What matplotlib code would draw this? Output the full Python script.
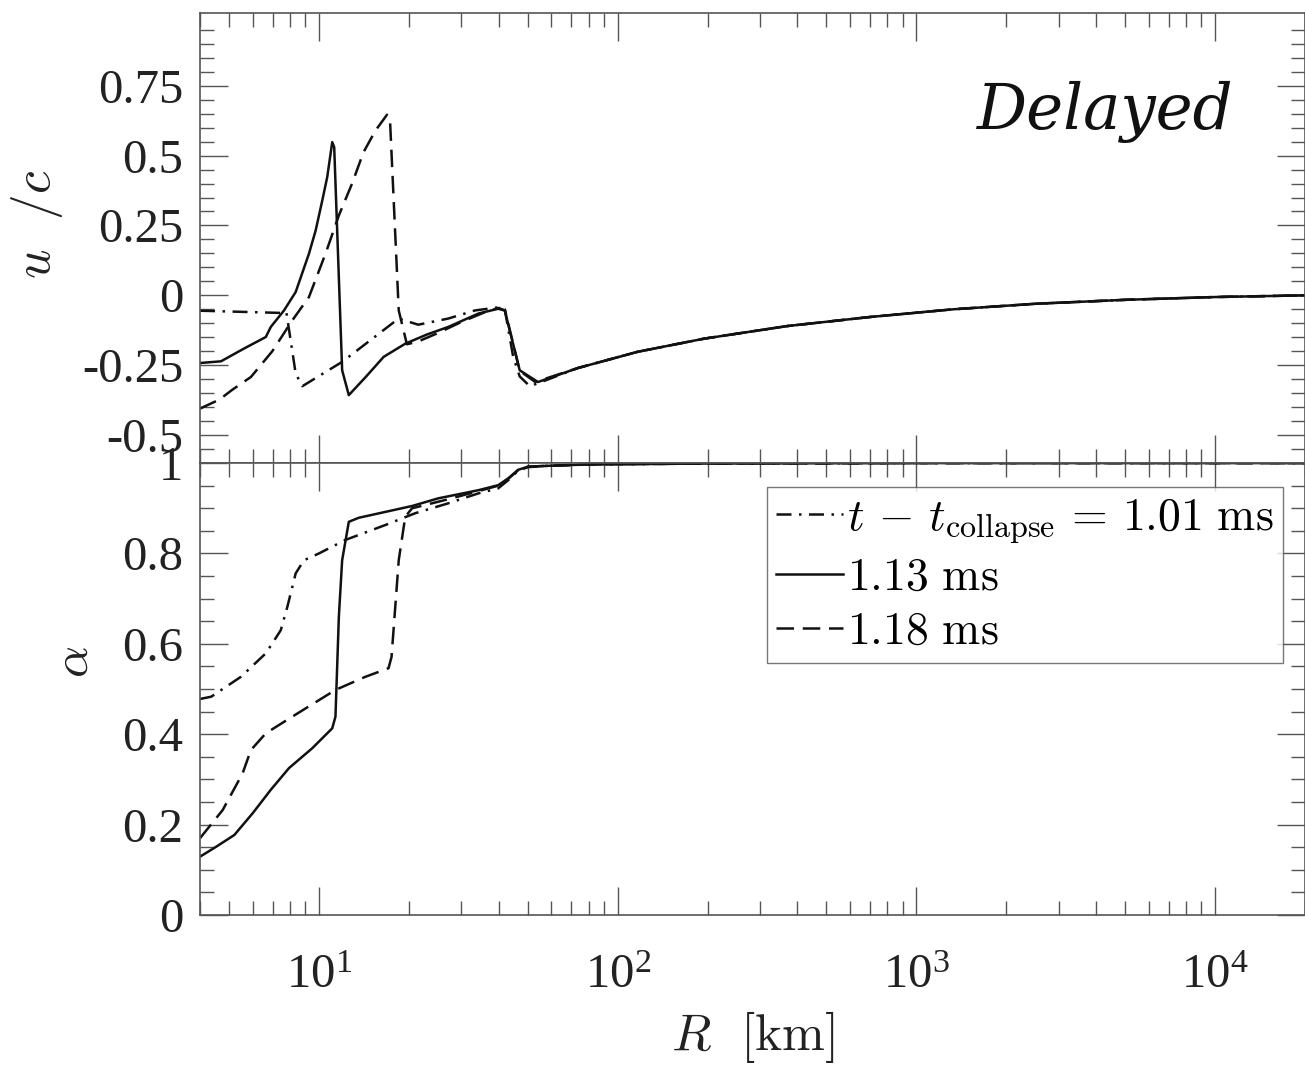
import numpy as np
import matplotlib
matplotlib.use('Agg')
import matplotlib.pyplot as plt

plt.rcParams['font.family'] = ['Liberation Serif', 'DejaVu Serif']
plt.rcParams['mathtext.fontset'] = 'cm'

# velocity u/c, three times after collapse
r_u101 = [4.0, 4.36, 7.55, 7.78, 8.36, 8.80, 11.96, 18.48, 21.5, 27.1, 33.3, 39.8, 41.9, 44.7, 47.0, 50.8, 55.5]
u_101 = [-0.055, -0.056, -0.063, -0.06, -0.28, -0.325, -0.238, -0.083, -0.105, -0.083, -0.054, -0.043, -0.05, -0.22, -0.29, -0.325, -0.31]

r_u113 = [4.0, 4.7, 5.62, 6.64, 6.9, 7.64, 8.36, 9.26, 9.75, 10.26, 10.66, 11.08, 11.25, 11.96, 12.59, 14.4, 16.47,
          19.45, 23.0, 27.1, 34.2, 39.8, 41.9, 47.0, 54.1]
u_113 = [-0.242, -0.236, -0.19, -0.149, -0.113, -0.054, 0.012, 0.149, 0.232, 0.339, 0.423, 0.548, 0.53, -0.268, -0.357,
         -0.29, -0.22, -0.173, -0.14, -0.113, -0.065, -0.048, -0.054, -0.268, -0.31]

r_u118 = [4.0, 4.64, 5.14, 5.92, 6.98, 8.15, 9.26, 10.52, 11.66, 12.9, 14.1, 15.45, 16.9, 17.3, 18.5, 19.7, 21.5, 25.0,
          30.0, 36.0, 40.0, 42.0, 47.0, 53.0]
u_118 = [-0.405, -0.373, -0.337, -0.292, -0.2, -0.089, -0.006, 0.149, 0.286, 0.399, 0.512, 0.589, 0.646, 0.625, -0.054,
         -0.175, -0.165, -0.135, -0.095, -0.06, -0.045, -0.055, -0.27, -0.31]

# common outer infall profile
r_tail = [73.6, 116.6, 194.5, 368.6, 698, 1324, 2512, 5000, 10000, 20000]
u_tail = [-0.26, -0.202, -0.155, -0.110, -0.0775, -0.05, -0.03, -0.016, -0.006, 0.0]

# lapse function alpha
r_a101 = [4.0, 4.36, 5.48, 6.64, 7.45, 7.84, 8.36, 8.91, 10.0, 12.27, 16.7, 21.0, 27.1, 34.2, 39.8, 43.0, 46.4, 50.1,
          58.5, 80, 200, 1000, 20000]
a_101 = [0.478, 0.483, 0.527, 0.579, 0.63, 0.682, 0.756, 0.785, 0.8, 0.83, 0.863, 0.889, 0.911, 0.933, 0.944, 0.962,
         0.983, 0.991, 0.994, 0.997, 0.999, 1.0, 1.0]

r_a113 = [4.0, 4.53, 5.21, 6.0, 6.9, 7.94, 9.5, 11.08, 11.36, 11.66, 11.96, 12.59, 13.6, 16.7, 20.5, 25.1, 34.2, 39.8,
          43.0, 46.4, 50.1, 58.5, 80, 200, 1000, 20000]
a_113 = [0.129, 0.151, 0.177, 0.225, 0.277, 0.325, 0.369, 0.413, 0.439, 0.66, 0.785, 0.870, 0.879, 0.892, 0.905, 0.922,
         0.94, 0.951, 0.966, 0.985, 0.992, 0.994, 0.997, 0.999, 1.0, 1.0]

r_a118 = [4.0, 4.76, 5.55, 5.92, 6.64, 8.15, 11.36, 14.3, 17.1, 17.5, 18.5, 19.45, 20.5, 27.1, 34.2, 39.8, 43.0, 46.4,
          50.1, 58.5, 80, 200, 1000, 20000]
a_118 = [0.170, 0.232, 0.313, 0.365, 0.402, 0.439, 0.498, 0.527, 0.546, 0.571, 0.785, 0.881, 0.9, 0.92, 0.938, 0.95,
         0.965, 0.984, 0.992, 0.994, 0.997, 0.999, 1.0, 1.0]

labels = [r'$t\, -\, t_{\rm collapse}\, =\, 1.01\ {\rm ms}$', r'$1.13\ {\rm ms}$', r'$1.18\ {\rm ms}$']
u_ticks = [-0.5, -0.25, 0, 0.25, 0.5, 0.75]
u_ticklabels = ['-0.5', '-0.25', '0', '0.25', '0.5', '0.75']
a_ticks = [0, 0.2, 0.4, 0.6, 0.8, 1]
a_ticklabels = ['0', '0.2', '0.4', '0.6', '0.8', '1']

dashdot = (0, (6, 3, 1, 3))
dashed = (0, (7, 3.5))
lw = 1.8
lc = '#111111'

fig = plt.figure(figsize=(13.05, 10.67), dpi=100)
ax1 = fig.add_axes([0.1533, 0.566, 0.8467, 0.4218])
ax2 = fig.add_axes([0.1533, 0.1425, 0.8467, 0.4235], sharex=ax1)

ax1.plot(np.concatenate([r_u101, r_tail]), np.concatenate([u_101, u_tail]), color=lc, lw=lw, ls=dashdot)
ax1.plot(np.concatenate([r_u113, r_tail]), np.concatenate([u_113, u_tail]), color=lc, lw=lw, ls='-')
ax1.plot(np.concatenate([r_u118, r_tail]), np.concatenate([u_118, u_tail]), color=lc, lw=lw, ls=dashed)

ax2.plot(r_a101, a_101, color=lc, lw=lw, ls=dashdot, label=labels[0])
ax2.plot(r_a113, a_113, color=lc, lw=lw, ls='-', label=labels[1])
ax2.plot(r_a118, a_118, color=lc, lw=lw, ls=dashed, label=labels[2])

ax1.set_xscale('log')
ax1.set_xlim(4.0, 2.0e4)
ax1.set_ylim(-0.6, 1.01)
ax2.set_ylim(0, 1)

ax1.set_yticks(u_ticks)
ax1.set_yticklabels(u_ticklabels)
ax1.set_yticks(np.arange(-0.6, 1.0, 0.05), minor=True)
ax2.set_yticks(a_ticks)
ax2.set_yticklabels(a_ticklabels)
ax2.set_yticks(np.arange(0, 1.0, 0.05), minor=True)

for ax in (ax1, ax2):
    for s in ax.spines.values():
        s.set_color('#555555')
        s.set_linewidth(1.2)
    ax.tick_params(which='both', direction='in', top=True, right=True, color='#555555', width=1.0,
                   labelsize=35, labelcolor='#222222', pad=12)
    ax.tick_params(which='major', length=20)
    ax.tick_params(which='minor', length=10)
ax1.tick_params(labelbottom=False)
ax2.tick_params(axis='x', pad=28)

ax1.set_ylabel(r'$u\ \ /c$', fontsize=37, color='#222222')
ax1.yaxis.set_label_coords(-0.122, 0.53)
ax2.set_ylabel(r'$\alpha$', fontsize=36, color='#222222')
ax2.yaxis.set_label_coords(-0.092, 0.56)
ax2.set_xlabel(r'$R\ \ [\mathrm{km}]$', fontsize=37, color='#222222', labelpad=8)

ax1.text(0.819, 0.78, 'Delayed', transform=ax1.transAxes, ha='center', va='center',
         fontsize=45, style='italic', family='DejaVu Serif', color='#111111')

leg = ax2.legend(loc='upper right', bbox_to_anchor=(0.98, 0.947), borderaxespad=0, fontsize=33,
                 handlelength=1.45, handletextpad=0.1, labelspacing=0.25, borderpad=0.2,
                 fancybox=False, frameon=True)
leg.get_frame().set_edgecolor('#555555')
leg.get_frame().set_linewidth(1.0)

fig.savefig('out.png', dpi=100)
